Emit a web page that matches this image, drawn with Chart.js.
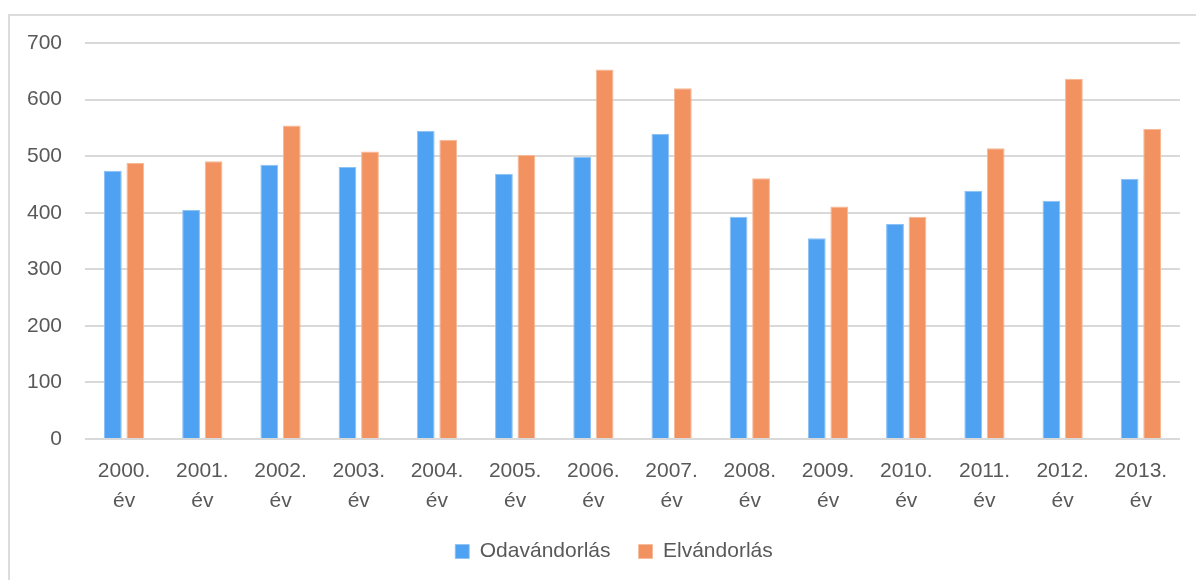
<!DOCTYPE html>
<html>
<head>
<meta charset="utf-8">
<script src="https://cdn.jsdelivr.net/npm/chart.js@4"></script>
<style>
  html, body { margin: 0; padding: 0; background: #ffffff; overflow: hidden; }
  #wrap { position: relative; width: 1196px; height: 580px; overflow: hidden; }
  #frame { position: absolute; left: 8px; top: 14px; width: 1300px; height: 700px; border: 2px solid #dcdcdc; box-sizing: border-box; }
  #c { position: absolute; left: 0; top: 0; }
</style>
</head>
<body>
<div id="wrap">
  <div id="frame"></div>
  <canvas id="c" width="1196" height="580"></canvas>
</div>
<script>
const years = ['2000.', '2001.', '2002.', '2003.', '2004.', '2005.', '2006.', '2007.', '2008.', '2009.', '2010.', '2011.', '2012.', '2013.'];
const yearSuffix = 'év';
const odavandorlas = [474, 405, 485, 481, 545, 469, 499, 539, 393, 355, 380, 439, 421, 460];
const elvandorlas = [488, 491, 554, 508, 529, 502, 653, 620, 461, 411, 393, 514, 637, 548];
const seriesNames = ['Odavándorlás', 'Elvándorlás'];
const yTicks = [0, 100, 200, 300, 400, 500, 600, 700];

const labels = years.map(y => [y, yearSuffix]);
const FONT = "'Liberation Sans', Arial, sans-serif";
const TEXT = '#595959';

const legendShift = {
  id: 'legendShift',
  afterLayout(chart) {
    if (chart.legend) { chart.legend.left += 24; chart.legend.right += 24; }
  }
};

new Chart(document.getElementById('c'), {
  type: 'bar',
  data: {
    labels: labels,
    datasets: [
      { label: seriesNames[0], data: odavandorlas, backgroundColor: '#4fa1f1', borderColor: '#8cc2f6', borderWidth: {left: 1, right: 1, top: 1, bottom: 0}, categoryPercentage: 0.575, barPercentage: 0.79 },
      { label: seriesNames[1], data: elvandorlas, backgroundColor: '#f29260', borderColor: '#f7b895', borderWidth: {left: 1, right: 1, top: 1, bottom: 0}, categoryPercentage: 0.575, barPercentage: 0.79 }
    ]
  },
  options: {
    responsive: false,
    animation: false,
    layout: { padding: { top: 43, right: 16, left: 0, bottom: 8 } },
    plugins: {
      tooltip: { enabled: false },
      legend: {
        position: 'bottom',
        labels: {
          boxWidth: 14, boxHeight: 14, padding: 28,
          color: TEXT,
          font: { family: FONT, size: 21 }
        }
      }
    },
    scales: {
      x: {
        grid: { display: false, drawTicks: false },
        border: { display: false },
        ticks: { color: TEXT, font: { family: FONT, size: 21, lineHeight: 1.43 }, padding: 17, maxRotation: 0, autoSkip: false },
        afterFit: (s) => { s.height = 74; }
      },
      y: {
        min: 0, max: 700,
        afterBuildTicks: (s) => { s.ticks = yTicks.map(v => ({ value: v })); },
        grid: { color: '#d9d9d9', lineWidth: 2, drawTicks: false },
        border: { display: false },
        ticks: { color: TEXT, font: { family: FONT, size: 21 }, padding: 23 },
        afterFit: (s) => { s.width = 85; }
      }
    }
  },
  plugins: [legendShift]
});
</script>
</body>
</html>
